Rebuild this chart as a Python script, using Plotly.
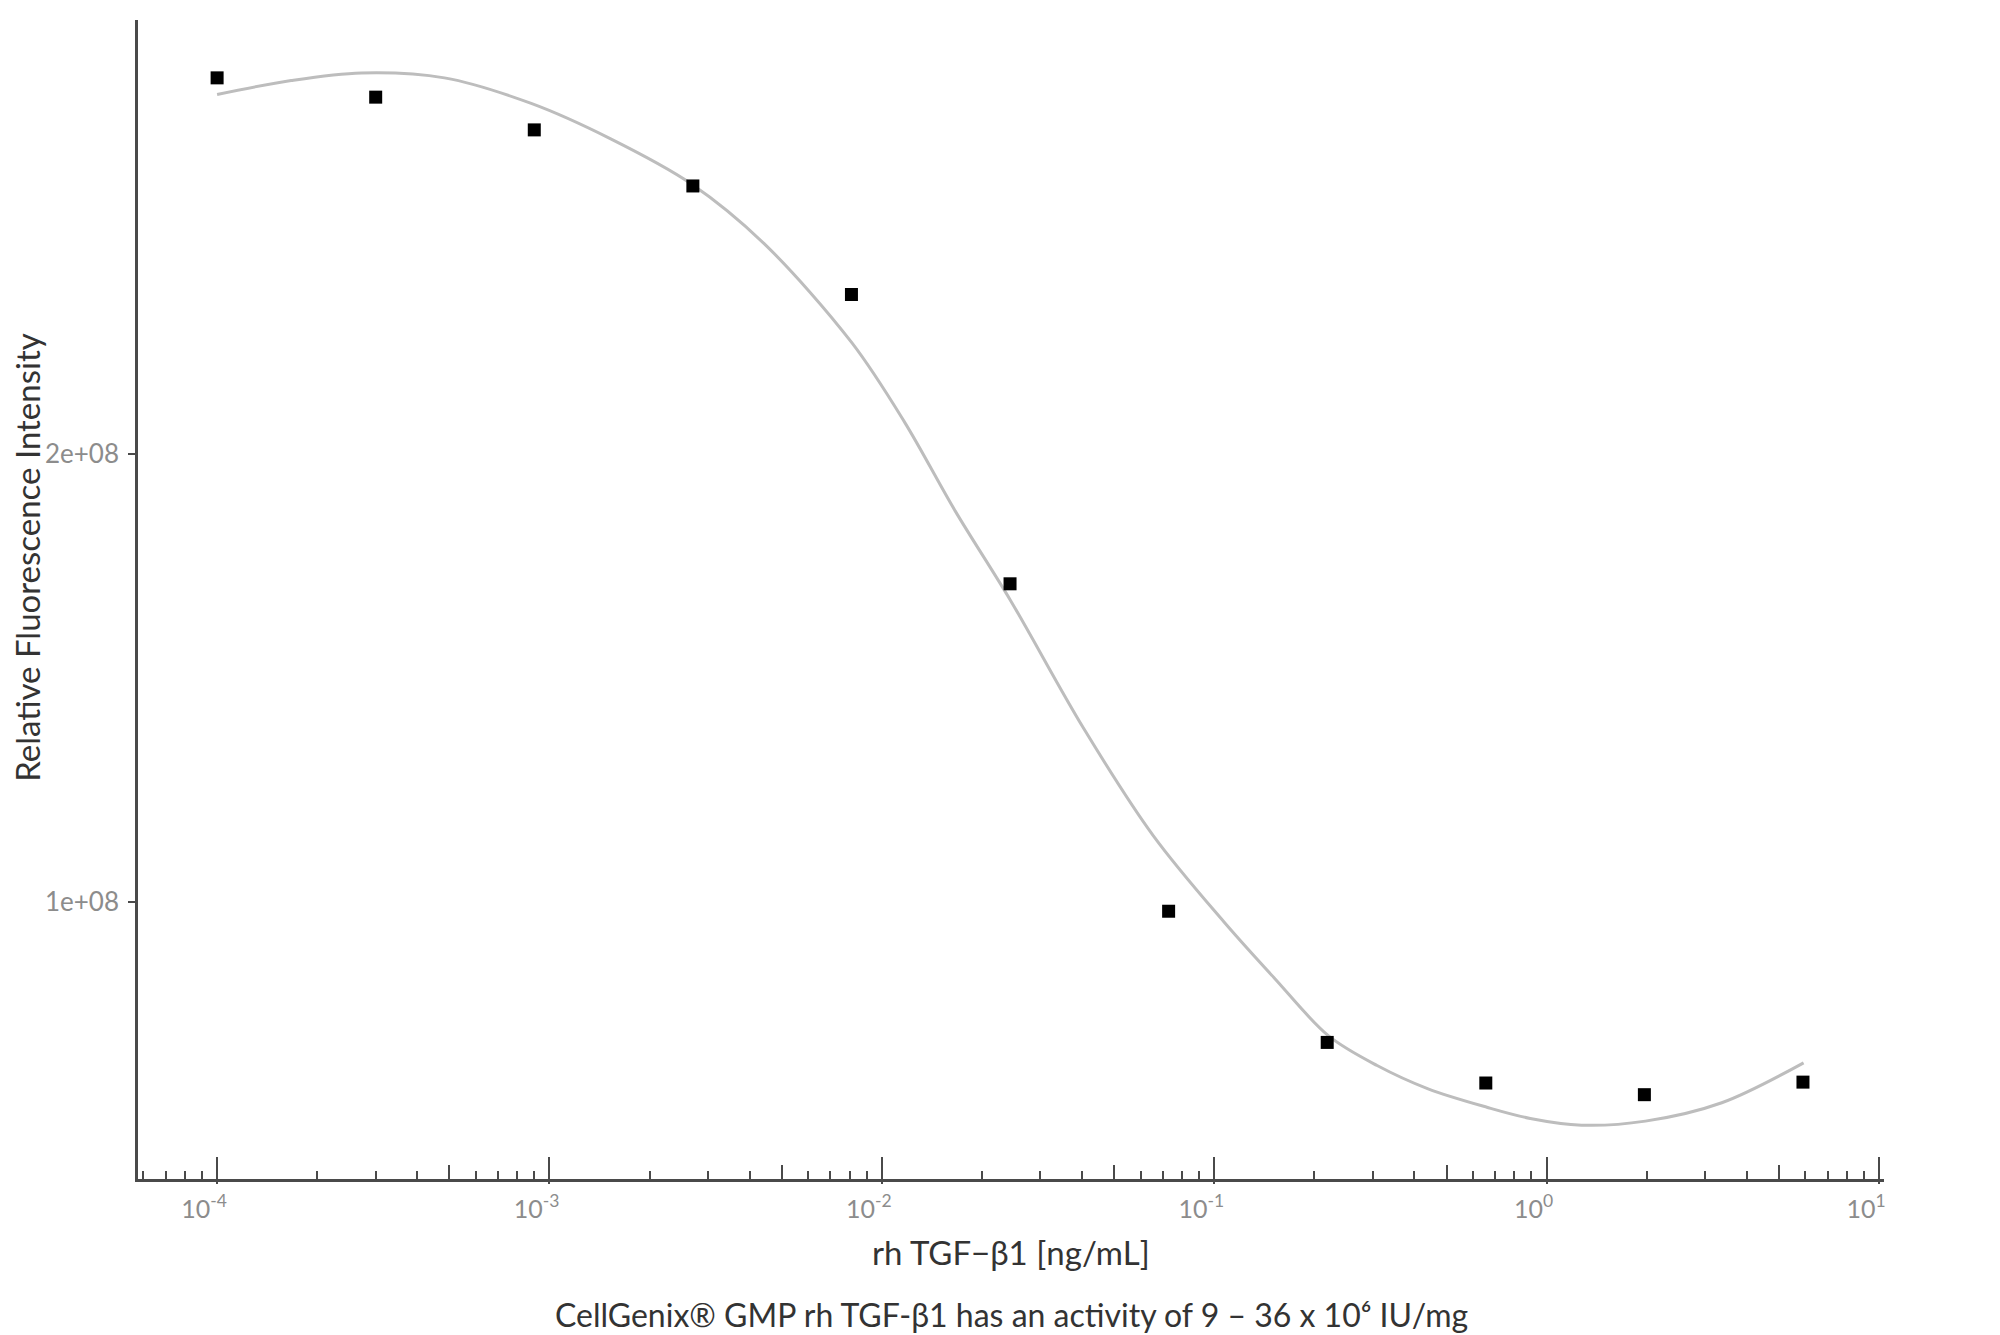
import plotly.graph_objects as go

# Measured data (3-fold dilution series)
conc = [0.0001, 0.0003, 0.0009, 0.0027, 0.0081, 0.0243, 0.0729, 0.2187, 0.6561, 1.9683, 5.9049]
rfi = [2.838e8, 2.795e8, 2.722e8, 2.597e8, 2.355e8, 1.710e8, 0.980e8, 0.6875e8, 0.597e8, 0.571e8, 0.599e8]

# Fitted curve
fit_x = [1.0e-4, 1.671e-4, 2.716e-4, 4.83e-4, 8.81e-4, 1.528e-3, 2.667e-3, 4.416e-3, 8.13e-3,
         1.169e-2, 1.663e-2, 2.438e-2, 4.036e-2, 6.56e-2, 0.1067, 0.152, 0.2208, 0.309, 0.440,
         0.661, 0.893, 1.274, 1.982, 3.365, 5.93]
fit_y = [2.801e8, 2.832e8, 2.849e8, 2.838e8, 2.781e8, 2.702e8, 2.602e8, 2.469e8, 2.247e8,
         2.071e8, 1.872e8, 1.673e8, 1.389e8, 1.148e8, 0.957e8, 0.830e8, 0.702e8, 0.636e8, 0.584e8,
         0.543e8, 0.518e8, 0.503e8, 0.512e8, 0.553e8, 0.642e8]

x_major = [1e-4, 1e-3, 1e-2, 1e-1, 1e0, 1e1]
x_major_text = ["10<sup>-4</sup>", "10<sup>-3</sup>", "10<sup>-2</sup>", "10<sup>-1</sup>",
                "10<sup>0</sup>", "10<sup>1</sup>"]
y_ticks = [1e8, 2e8]
y_tick_text = ["1e+08", "2e+08"]

x_title = "rh TGF−β1 [ng/mL]"
y_title = "Relative Fluorescence Intensity"
caption = "CellGenix® GMP rh TGF-β1 has an activity of 9 – 36 x 10⁶ IU/mg"

x_range = [-4.238, 1.015]
y_range = [0.383e8, 2.967e8]

minor_vals = [m * 10.0 ** e for e in range(-5, 2) for m in range(2, 10)]
mid_vals = [5 * 10.0 ** e for e in range(-5, 1)]

FONT = "Lato, 'Open Sans', sans-serif"
AXIS_COL = "#4a4a4a"
TICK_COL = "#8c8c8c"

fig = go.Figure()
fig.add_trace(go.Scatter(x=fit_x, y=fit_y, mode="lines",
                         line=dict(color="#bdbdbd", width=3, shape="spline", smoothing=0.95),
                         hoverinfo="skip", showlegend=False))
fig.add_trace(go.Scatter(x=conc, y=rfi, mode="markers",
                         marker=dict(symbol="square", size=13, color="black"),
                         showlegend=False))
# invisible traces to anchor overlay axes
fig.add_trace(go.Scatter(x=conc, y=rfi, mode="markers", marker=dict(opacity=0),
                         xaxis="x2", hoverinfo="skip", showlegend=False))
fig.add_trace(go.Scatter(x=conc, y=rfi, mode="markers", marker=dict(opacity=0),
                         xaxis="x3", hoverinfo="skip", showlegend=False))

fig.update_layout(
    width=1992, height=1327,
    margin=dict(l=130, r=116, t=12, b=156),
    paper_bgcolor="white", plot_bgcolor="white",
    font=dict(family=FONT, color="#333333"),
    xaxis=dict(type="log", range=x_range, tickvals=x_major, ticktext=x_major_text,
               ticks="inside", ticklen=22, tickwidth=2, tickcolor=AXIS_COL,
               tickfont=dict(size=25, color=TICK_COL, family=FONT),
               ticklabelshift=-13, ticklabelstandoff=6,
               minor=dict(tickvals=minor_vals, ticks="inside", ticklen=8, tickwidth=2,
                          tickcolor=AXIS_COL, showgrid=False),
               showline=True, linecolor=AXIS_COL, linewidth=2.5,
               showgrid=False, zeroline=False),
    xaxis2=dict(type="log", range=x_range, overlaying="x", anchor="y",
                tickvals=mid_vals, ticks="inside", ticklen=14, tickwidth=2,
                tickcolor=AXIS_COL, showticklabels=False, showline=False,
                showgrid=False, zeroline=False),
    xaxis3=dict(type="log", range=x_range, overlaying="x", anchor="y",
                tickvals=x_major, ticks="outside", ticklen=4, tickwidth=2,
                tickcolor=AXIS_COL, showticklabels=False, showline=False,
                showgrid=False, zeroline=False),
    yaxis=dict(range=y_range, tickvals=y_ticks, ticktext=y_tick_text,
               ticks="outside", ticklen=7, tickwidth=2, tickcolor=AXIS_COL,
               tickfont=dict(size=26, color=TICK_COL, family=FONT),
               ticklabelstandoff=4,
               showline=True, linecolor=AXIS_COL, linewidth=2.5,
               showgrid=False, zeroline=False),
    annotations=[
        dict(text=x_title, xref="paper", yref="paper", x=0.50, y=0, yshift=-73,
             xanchor="center", yanchor="middle", showarrow=False,
             font=dict(size=33, color="#333333", family=FONT)),
        dict(text=caption, xref="paper", yref="paper", x=0.50, y=0, yshift=-135,
             xanchor="center", yanchor="middle", showarrow=False,
             font=dict(size=32, color="#333333", family=FONT)),
        dict(text=y_title, xref="paper", yref="paper", x=0, xshift=-111, y=0.536,
             xanchor="center", yanchor="middle", textangle=-90, showarrow=False,
             font=dict(size=33, color="#333333", family=FONT)),
    ],
)

fig.write_html("out.html")
